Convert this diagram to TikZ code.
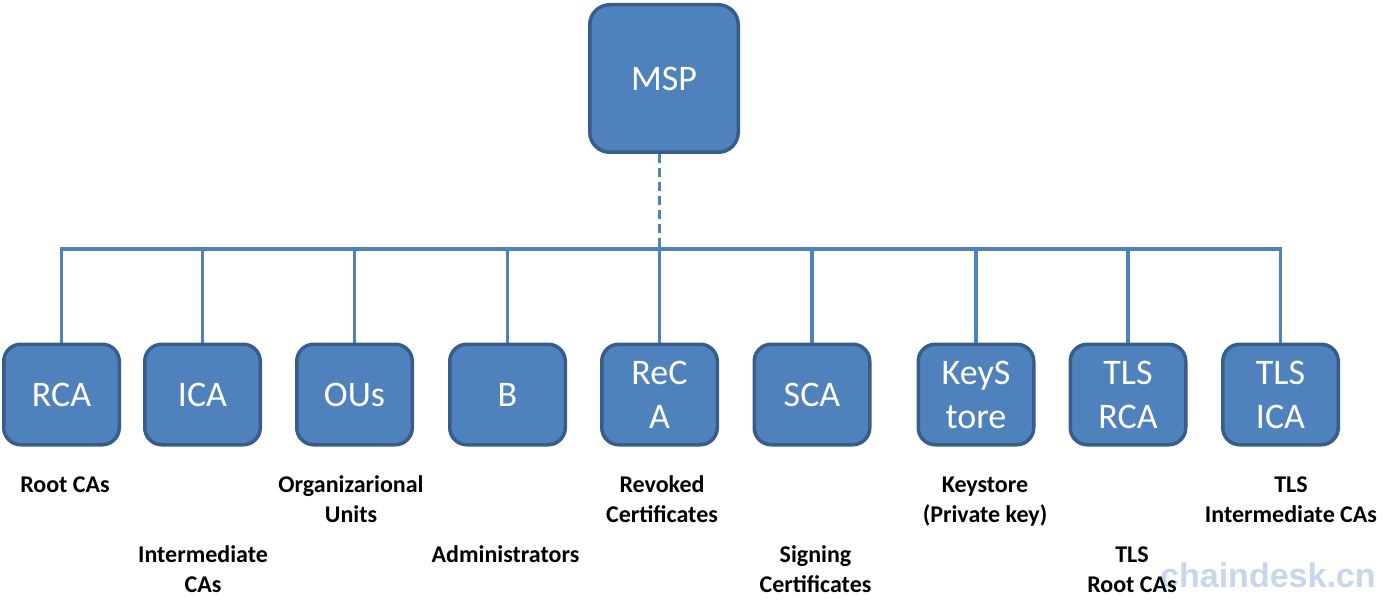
\documentclass[tikz,border=0pt]{standalone}
\usepackage{fontspec}
\setmainfont{Carlito}
\newfontfamily\wmfont{Liberation Sans}
\usetikzlibrary{backgrounds}
\definecolor{boxfill}{HTML}{4F81BD}
\definecolor{boxline}{HTML}{385D8A}
\definecolor{wmcol}{RGB}{198,214,236}
\newcommand{\twol}[2]{\begin{tabular}[t]{@{}c@{}}#1\\#2\end{tabular}}
\tikzset{
  box/.style={draw=boxline, fill=boxfill, line width=3.5pt, rounded corners=17pt,
    minimum width=115.5pt, minimum height=100.5pt, inner sep=0pt, text=white,
    align=center, font=\fontsize{36}{44}\selectfont},
  mspbox/.style={box, rounded corners=20pt, minimum width=148.5pt, minimum height=147.5pt},
  link/.style={draw=boxfill, line width=3.5pt},
  dashlink/.style={link, dash pattern=on 9pt off 5pt},
  lbl/.style={anchor=base, inner sep=0pt, font=\fontsize{24}{30}\selectfont\bfseries},
  wmark/.style={anchor=base west, inner sep=0pt, text=wmcol,
    font=\wmfont\bfseries\fontsize{34}{40}\selectfont},
}
\begin{document}
\begin{tikzpicture}[x=1pt,y=-1pt]
\useasboundingbox (0,0) rectangle (1395,607);
% boxes
\node[mspbox] (msp) at (664,78.5) {MSP};
\node[box] (rca)   at (61.5,394.5)  {RCA};
\node[box] (ica)   at (202.5,394.5) {ICA};
\node[box] (ous)   at (354.5,394.5) {OUs};
\node[box] (adm)   at (507.5,394.5) {B};
\node[box] (reca)  at (659.5,394.5) {ReC\\A};
\node[box] (sca)   at (812,394.5)   {SCA};
\node[box] (keys)  at (976,394.5)   {KeyS\\tore};
\node[box] (tlsr)  at (1128,394.5)  {TLS\\RCA};
\node[box] (tlsi)  at (1280.5,394.5){TLS\\ICA};
% connectors
\coordinate (busL) at (61.5,249);
\coordinate (busR) at (1280.5,249);
\begin{scope}[on background layer]
  \draw[link, line cap=rect] (busL) -- (busR);
  \foreach \n in {rca,ica,ous,adm,reca,sca,keys,tlsr,tlsi}
    \draw[link] (\n.north) -- (\n.north |- busL);
  \draw[dashlink] (reca.north |- msp.south) -- (reca.north |- busL);
\end{scope}
% watermark
\node[wmark] (wm) at (1160,587) {chaindesk.cn};
% labels
\node[lbl] (lrca)  at (65,492)    {Root CAs};
\node[lbl] (lica)  at (203,562)   {\twol{Intermediate}{CAs}};
\node[lbl] (lous)  at (351,492)   {\twol{Organizarional}{Units}};
\node[lbl] (ladm)  at (505.5,562) {Administrators};
\node[lbl] (lreca) at (662,492)   {\twol{Revoked}{Certificates}};
\node[lbl] (lsca)  at (815.5,562) {\twol{Signing}{Certificates}};
\node[lbl] (lkeys) at (985,492)   {\twol{Keystore}{(Private key)}};
\node[lbl] (ltlsr) at (1132,562)  {\twol{TLS}{Root CAs}};
\node[lbl] (ltlsi) at (1291,492)  {\twol{TLS}{Intermediate CAs}};
\end{tikzpicture}
\end{document}
